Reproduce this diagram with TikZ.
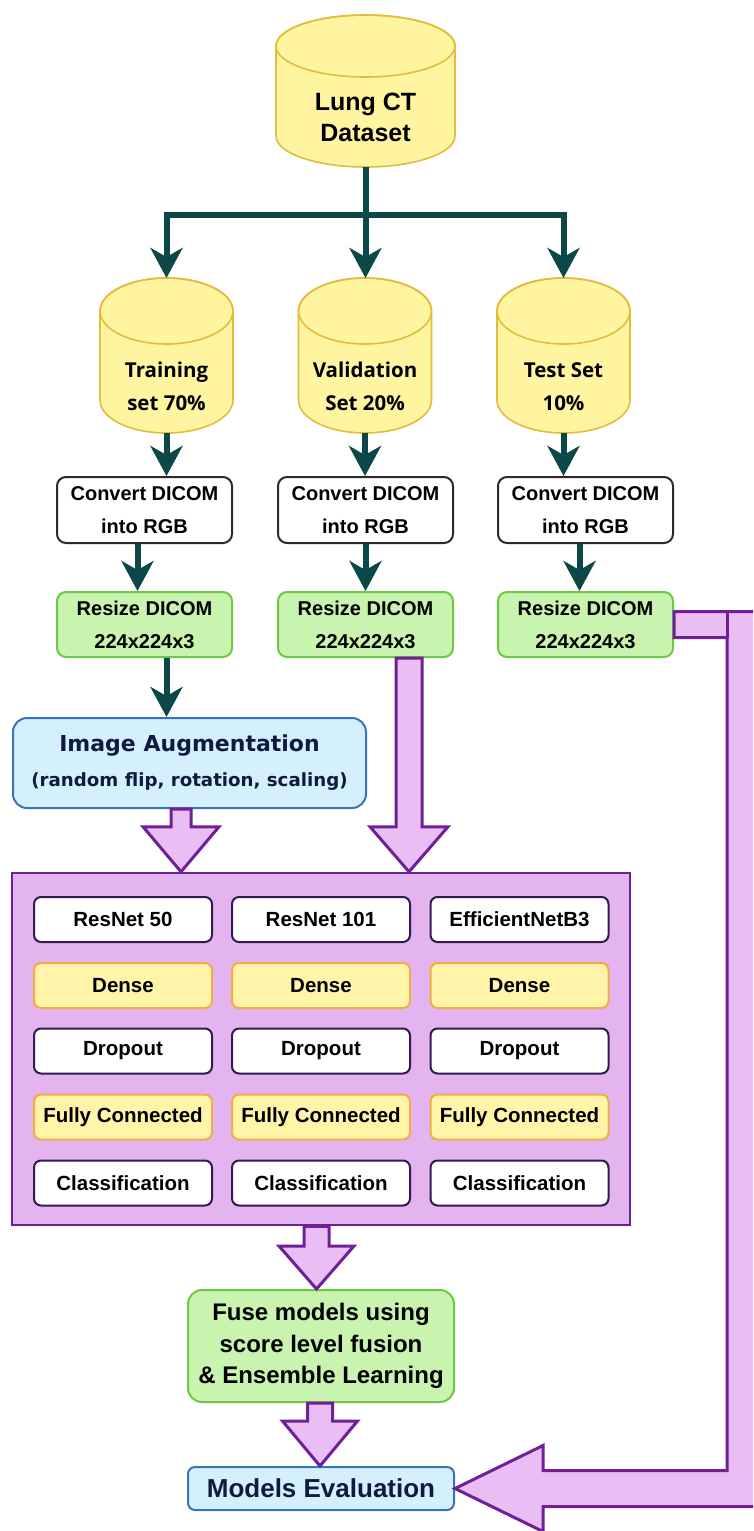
\documentclass[tikz,border=0pt]{standalone}
\usepackage{fontspec}
\setmainfont{Liberation Sans}
\newfontfamily\opensans{Open Sans}
\newfontfamily\dejavu{DejaVu Sans}
\usetikzlibrary{arrows.meta,calc}

\definecolor{flowteal}{RGB}{12,72,72}
\definecolor{cylfill}{RGB}{255,245,160}
\definecolor{cylline}{RGB}{228,188,60}
\definecolor{convline}{RGB}{45,40,45}
\definecolor{greenfill}{RGB}{200,244,175}
\definecolor{greenline}{RGB}{110,200,70}
\definecolor{bluefill}{RGB}{212,240,252}
\definecolor{blueline}{RGB}{55,115,190}
\definecolor{lavender}{RGB}{228,180,240}
\definecolor{arrowfill}{RGB}{234,190,245}
\definecolor{purpleline}{RGB}{112,32,150}
\definecolor{inkline}{RGB}{50,25,80}
\definecolor{densefill}{RGB}{255,244,168}
\definecolor{denseline}{RGB}{242,172,70}
\definecolor{navytext}{RGB}{16,26,64}

\tikzset{
  flow/.style={line width=6pt, draw=flowteal,
    -{Stealth[length=30pt,width=32pt,inset=9pt]}},
  trunk/.style={line width=6pt, draw=flowteal},
  cyl/.style={fill=cylfill, draw=cylline, line width=1.6pt},
  cyltext/.style={align=center, text=black},
  box/.style={rectangle, rounded corners=9pt, line width=2pt, inner sep=0pt,
    align=center, text=black, font=\bfseries\fontsize{20}{33}\selectfont},
  convbox/.style={box, draw=convline, fill=white, minimum width=175pt, minimum height=66pt},
  resizebox/.style={box, draw=greenline, fill=greenfill, minimum width=175pt, minimum height=65pt},
  layerbox/.style={box, rounded corners=7pt, minimum width=178pt, minimum height=45pt,
    font=\bfseries\fontsize{20.5}{24}\selectfont},
  netbox/.style={layerbox, draw=inkline, fill=white},
  densebox/.style={layerbox, draw=denseline, fill=densefill},
  blockarrow/.style={fill=arrowfill, draw=purpleline, line width=3pt, line join=miter},
}

% cylinder: name, centre x, centre y, width, height, ellipse y radius
\newcommand\drum[6]{%
  \node[minimum width=#4pt, minimum height=#5pt, inner sep=0pt, outer sep=0pt] (#1) at (#2,#3) {};
  \filldraw[cyl] ({#2-#4/2},{#3+#5/2-#6}) -- ({#2-#4/2},{#3-#5/2+#6})
    arc[start angle=180,end angle=360,x radius={#4/2},y radius=#6]
    -- ({#2+#4/2},{#3+#5/2-#6})
    arc[start angle=0,end angle=180,x radius={#4/2},y radius=#6] -- cycle;
  \draw[cyl, fill=none] (#2,{#3+#5/2-#6}) ellipse[x radius={#4/2},y radius=#6];
}

% hollow downward block arrow: start, tip, shaft half width, head half width, head length
\newcommand\blockdown[5]{%
  \draw[blockarrow] let \p1=(#1), \p2=(#2) in
    ({\x1-#3},\y1) -- ({\x1-#3},{\y2+#5}) -- ({\x2-#4},{\y2+#5}) -- (\x2,\y2)
    -- ({\x2+#4},{\y2+#5}) -- ({\x1+#3},{\y2+#5}) -- ({\x1+#3},\y1) -- cycle;
}

\begin{document}
\begin{tikzpicture}[x=1pt,y=1pt]
\path[use as bounding box] (0,0) rectangle (753,-1531);
\fill[white] (0,0) rectangle (753,-1531);
\clip (0,0) rectangle (753,-1531);

% ---- datasets ----
\drum{lung}{365.5}{-91}{179}{152}{31}
\node[cyltext, font=\bfseries\fontsize{25}{31}\selectfont] (lung-t) at (365.5,-117.5) {Lung CT\\Dataset};

\drum{train}{166.5}{-355.5}{133}{155}{33}
\drum{val}{365}{-355.5}{133}{155}{33}
\drum{test}{563.5}{-355.5}{133}{155}{33}
\node[cyltext, font=\opensans\bfseries\fontsize{20.5}{33}\selectfont] (train-t) at (166.5,-386.5) {Training\\set 70\%};
\node[cyltext, font=\opensans\bfseries\fontsize{20.5}{33}\selectfont] (val-t) at (365,-386.5) {Validation\\Set 20\%};
\node[cyltext, font=\opensans\bfseries\fontsize{20.5}{33}\selectfont] (test-t) at (563.5,-386.5) {Test Set\\10\%};

\coordinate (split) at ($(lung.south)+(0,-48)$);
\draw[trunk] (lung.south) -- (split);
\draw[flow] (split) -| (train.north);
\draw[flow] (split) -- (split |- val.north);
\draw[flow] (split) -| (test.north);

% ---- preprocessing ----
\node[convbox] (conv1) at (144.5,-510) {Convert DICOM\\into RGB};
\node[convbox] (conv2) at (365.5,-510) {Convert DICOM\\into RGB};
\node[convbox] (conv3) at (585.5,-510) {Convert DICOM\\into RGB};

\node[resizebox] (resize1) at (144.5,-624.5) {Resize DICOM\\224x224x3};
\node[resizebox] (resize2) at (365.5,-624.5) {Resize DICOM\\224x224x3};
\node[resizebox] (resize3) at (585.5,-624.5) {Resize DICOM\\224x224x3};

\draw[flow] (train.south) -- (train.south |- conv1.north);
\draw[flow] (val.south) -- (val.south |- conv2.north);
\draw[flow] (test.south) -- (test.south |- conv3.north);
\draw[flow] ([xshift=-7pt]conv1.south) -- ([xshift=-7pt]resize1.north);
\draw[flow] (conv2.south) -- (resize2.north);
\draw[flow] ([xshift=-6pt]conv3.south) -- ([xshift=-6pt]resize3.north);

\node[box, rounded corners=14pt, draw=blueline, fill=bluefill, minimum width=353pt, minimum height=90pt,
  text=navytext, font=\dejavu\bfseries\fontsize{22}{35}\selectfont] (aug) at (189.5,-763)
  {Image Augmentation\\{\fontsize{18.2}{35}\selectfont (random flip, rotation, scaling)}};
\draw[flow] (resize1.south -| train.south) -- (aug.north -| train.south);

% ---- model stack ----
\node[rectangle, fill=lavender, draw=purpleline, line width=2.5pt,
  minimum width=618pt, minimum height=352pt] (stack) at (321,-1049) {};

\foreach \x/\c/\t in {123/1/ResNet 50, 321/2/ResNet 101, 519.5/3/EfficientNetB3} {
  \node[netbox] (net\c) at (\x,-919.5) {\t};
  \node[densebox] (dense\c) at (\x,-985.5) {Dense};
  \node[netbox] (drop\c) at (\x,-1051) {Dropout};
  \node[densebox] (fc\c) at (\x,-1117) {Fully Connected};
  \node[netbox] (cls\c) at (\x,-1183) {Classification};
}

\coordinate (a1s) at ([xshift=-8.5pt]aug.south);
\blockdown{a1s}{a1s |- stack.north}{10pt}{38pt}{45pt}
\coordinate (a2s) at ([xshift=43.5pt]resize2.south);
\blockdown{a2s}{a2s |- stack.north}{13pt}{39pt}{45pt}

% ---- fusion and evaluation ----
\node[box, rounded corners=14pt, draw=greenline, fill=greenfill, minimum width=266pt, minimum height=112pt,
  font=\bfseries\fontsize{24}{31.5}\selectfont] (fuse) at (321,-1346)
  {Fuse models using\\score level fusion\\\& Ensemble Learning};
\node[box, rounded corners=7pt, draw=blueline, fill=bluefill, minimum width=266pt, minimum height=43pt,
  text=navytext, font=\bfseries\fontsize{26}{30}\selectfont] (eval) at (321,-1488.5) {Models Evaluation};

\coordinate (a3s) at ([xshift=-4.5pt]stack.south);
\blockdown{a3s}{a3s |- fuse.north}{12.5pt}{37.5pt}{43pt}
\coordinate (a4s) at ([xshift=-1pt]fuse.south);
\blockdown{a4s}{a4s |- eval.north}{12.5pt}{37.5pt}{45pt}

% ---- test set routed to evaluation (runs past the right edge) ----
\draw[blockarrow] let \p1=(resize3.east), \p2=(eval.east) in
  (\x1,{\y1+13pt}) -- ({\x1+140pt},{\y1+13pt}) -- ({\x1+140pt},{\y2-18pt})
  -- ({\x2+88pt},{\y2-18pt}) -- ({\x2+88pt},{\y2-43pt}) -- (\x2,\y2)
  -- ({\x2+88pt},{\y2+43pt}) -- ({\x2+88pt},{\y2+18pt}) -- ({\x1+53pt},{\y2+18pt})
  -- ({\x1+53pt},{\y1-13pt}) -- (\x1,{\y1-13pt}) -- cycle;
\draw[purpleline, line width=3pt] let \p1=(resize3.east) in
  ({\x1+53pt},{\y1+13pt}) -- ({\x1+53pt},{\y1-13pt});
\end{tikzpicture}
\end{document}
